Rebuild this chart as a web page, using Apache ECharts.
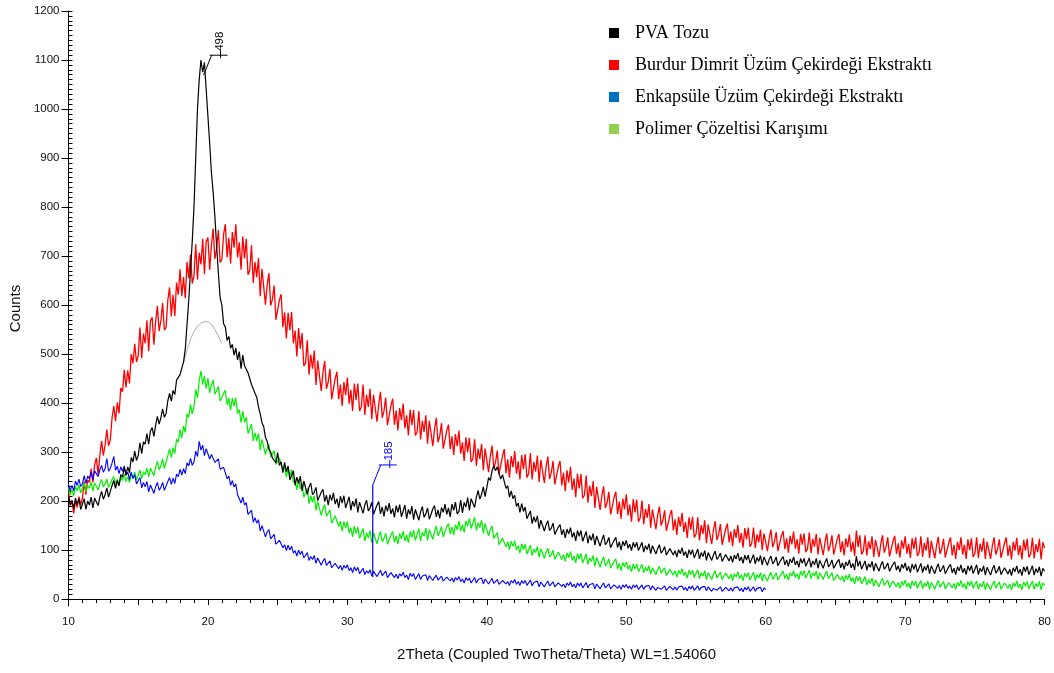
<!DOCTYPE html>
<html><head><meta charset="utf-8">
<script src="https://cdn.jsdelivr.net/npm/echarts@6/dist/echarts.min.js"></script>
<style>html,body{margin:0;padding:0;background:#fff}#c{width:1054px;height:673px}</style>
</head><body><div id="c"></div>
<script>
// Sampling grid of the diffractograms (2Theta, degrees): 8 readings per degree from 10
const X_START = 10, X_STEP = 0.125;
const seriesNames = ['PVA Tozu', 'Burdur Dimrit Üzüm Çekirdeği Ekstraktı', 'Enkapsüle Üzüm Çekirdeği Ekstraktı', 'Polimer Çözeltisi Karışımı'];

// 10 .. 80
const pvaTozu = [
212,192,202,185,206,193,205,183, 186,205,183,200,192,208,186,206, 208,191,208,220,204,213,227,208, 212,232,242,226,242,231,254,249, 269,253,270,258,289,280,302,283,
293,319,297,321,316,338,316,343, 350,332,355,373,357,370,388,371, 379,405,420,404,426,417,447,444, 458,462,484,510,560,610,670,730, 800,900,1000,1060,1100,1075,1095,1040,
985,930,870,830,780,720,665,615, 600,562,555,528,536,512,520,498, 512,488,505,470,498,476,480,462, 460,438,440,420,412,392,378,360, 352,330,322,305,300,288,292,278,
299,273,280,258,279,260,272,243, 243,262,232,249,236,251,221,241, 240,214,229,237,213,218,228,201, 201,218,224,199,212,192,213,201, 217,194,205,186,210,196,211,186,
189,209,181,200,189,205,177,198, 200,175,192,202,180,186,198,173, 175,192,199,174,188,169,191,179, 196,174,185,167,191,177,193,168, 171,192,164,183,173,190,162,183,
185,161,178,189,167,174,186,163, 165,184,191,168,182,165,187,177, 194,173,186,168,194,181,198,174, 179,202,176,197,188,207,181,205, 208,187,208,222,204,214,229,209,
228,248,242,262,272,262,270,256, 245,254,253,226,231,208,221,205, 212,189,196,177,195,179,188,164, 164,180,154,168,157,170,144,161, 160,139,152,160,140,145,155,132,
132,147,152,131,142,125,143,133, 146,126,136,119,140,128,140,118, 121,138,114,130,120,134,110,129, 129,108,121,131,111,116,126,105, 105,120,126,105,117,100,118,109,
120,104,112,99,116,106,116,99, 101,116,96,109,101,113,93,109, 109,92,103,111,94,99,107,90, 90,103,107,90,99,86,101,93, 105,89,97,84,101,91,101,84,
87,102,82,95,87,99,79,95, 96,79,90,98,81,86,94,77, 78,91,95,78,88,75,90,82, 94,78,86,73,90,80,90,73, 76,91,72,85,77,89,70,86,
86,69,81,88,72,77,86,68, 70,82,87,70,80,67,82,74, 86,70,78,65,83,73,83,67, 70,84,65,78,70,83,63,79, 80,63,75,83,66,71,80,63,
64,76,81,64,74,61,76,68, 80,64,73,59,88,67,78,61, 64,78,59,72,65,77,57,73, 74,57,69,77,61,66,74,57, 58,71,76,59,68,55,71,63,
74,58,67,54,72,61,72,55, 58,73,54,67,59,71,52,68, 69,52,64,72,56,61,69,52, 53,66,71,54,63,50,66,58, 70,54,63,50,68,58,69,52,
55,70,50,63,56,68,49,65, 66,49,61,69,53,58,67,50, 51,64,68,51,61,48,64,56, 68,52,61,48,66,56,67,50, 53,68,49,62,54,66,47,63,
57];

// 10 .. 80
const burdurDimrit = [
220,191,200,175,200,187,209,193, 206,240,213,243,238,266,238,274, 288,254,294,323,293,314,346,313, 325,370,394,363,401,379,431,423, 468,432,467,440,500,481,521,484,
497,554,492,542,522,569,506,567, 575,519,566,598,547,568,604,549, 555,610,636,577,621,578,646,621, 673,618,657,614,688,655,703,644, 660,724,652,707,683,735,663,730,
738,672,722,756,694,715,753,687, 693,745,765,697,737,685,749,717, 765,697,728,672,740,695,735,662, 671,722,645,688,657,696,618,674, 672,601,641,665,599,612,640,570,
569,610,622,555,585,532,584,549, 586,522,548,495,553,511,543,476, 481,528,458,499,470,507,437,487, 486,425,463,486,429,443,470,408, 410,450,464,408,438,394,443,416,
452,399,427,384,440,406,440,384, 392,438,376,417,392,429,367,417, 418,362,398,423,370,384,411,355, 358,395,409,356,385,344,390,365, 399,349,375,334,387,355,386,334,
341,384,326,364,341,375,317,364, 365,312,347,370,320,333,359,307, 310,344,356,306,332,294,337,312, 344,297,320,282,330,300,329,280, 286,326,272,307,286,317,263,307,
308,259,292,313,267,279,303,255, 257,292,306,257,285,248,292,269, 302,256,281,244,294,265,296,248, 256,298,244,280,260,293,239,284, 286,237,270,291,245,258,282,234,
236,270,282,232,258,220,263,238, 270,223,246,208,256,226,255,206, 212,252,197,231,210,241,186,229, 228,182,211,230,186,197,219,173, 174,207,219,174,199,164,205,183,
214,171,193,158,204,177,203,158, 166,201,153,184,166,194,146,183, 185,143,171,189,150,161,181,139, 141,171,182,140,163,131,168,148, 176,137,157,125,167,142,168,126,
132,167,120,151,133,161,114,152, 154,112,141,159,121,132,153,111, 115,143,154,116,138,108,143,125, 151,115,135,105,145,122,146,107, 114,146,104,132,116,142,100,134,
136,98,124,142,106,117,137,98, 100,129,139,102,124,95,129,112, 138,103,122,93,133,111,134,96, 103,136,94,123,107,133,91,125, 127,90,116,134,98,110,130,91,
93,122,133,96,118,89,124,106, 132,97,117,88,140,106,130,91, 98,130,89,118,102,128,86,121, 123,86,112,130,95,106,126,87, 89,118,129,92,114,85,120,103,
128,93,113,84,124,102,126,88, 95,128,86,115,99,126,84,119, 120,83,109,127,92,103,123,85, 86,115,126,89,111,82,117,100, 126,91,111,82,122,100,124,86,
93,126,84,113,97,124,82,117, 119,82,108,126,91,102,122,84, 86,114,126,88,110,81,117,99, 125,90,110,81,121,99,123,85, 92,125,83,112,96,123,81,116,
104];

// 10 .. 60
const enkapsule = [
235,221,232,221,241,232,245,230, 235,252,236,251,246,260,244,262, 265,250,264,273,259,266,287,261, 267,278,291,263,271,256,270,261, 272,253,259,244,259,246,254,235,
235,248,227,238,229,240,219,233, 232,216,229,238,222,228,238,222, 224,240,248,234,247,236,255,250, 265,253,266,256,278,272,287,273, 280,302,291,322,304,314,293,307,
307,286,295,299,279,280,286,265, 262,269,269,246,251,232,242,229, 235,213,216,196,208,192,197,173, 170,181,157,166,155,162,139,150, 147,127,137,142,123,125,132,112,
112,120,122,105,111,99,110,100, 108,94,99,88,100,91,98,84, 84,95,79,87,81,89,73,84, 84,69,78,83,69,72,78,64, 64,73,75,62,69,59,69,63,
70,58,64,54,66,58,65,52, 53,63,50,58,53,60,47,57, 58,46,53,59,48,50,57,44, 44,54,57,44,51,42,52,47, 55,44,49,40,53,46,52,40,
43,52,40,47,43,50,38,48, 48,38,44,49,39,42,47,37, 37,45,47,37,43,35,44,39, 46,36,41,33,44,38,43,33, 35,44,33,40,36,43,31,41,
41,31,37,42,32,35,40,30, 30,38,41,31,36,28,38,33, 40,30,36,28,38,32,38,28, 30,39,27,34,30,37,25,35, 35,25,32,37,27,30,35,25,
25,33,36,26,31,23,33,28, 35,25,31,23,33,27,33,23, 25,34,23,30,26,32,21,31, 31,21,28,33,23,26,31,21, 21,29,32,22,28,20,29,24,
30,22,27,20,29,24,29,20, 21,29,20,26,22,28,19,27, 27,18,24,28,20,22,27,18, 19,26,28,19,25,18,25,22, 27,19,24,17,26,21,27,18,
19,27,18,24,20,26,17,25, 25,16,22,26,18,20,25,16, 17,24,26,17,23,16,23,20, 25,17,22,15,24,19,25,16, 17,25,16,22,18,24,15,23,
19];

// 10 .. 80
const polimer = [
228,213,223,211,230,221,233,217, 221,237,219,232,226,239,221,237, 239,223,236,244,229,235,245,228, 230,244,250,234,245,232,249,242, 255,240,250,238,256,247,259,243,
247,263,246,260,254,267,250,267, 270,252,269,281,264,272,286,267, 269,293,307,289,309,297,326,321, 346,329,353,340,378,371,397,378, 392,428,410,446,466,438,455,430,
451,421,437,447,418,422,434,404, 402,420,426,396,410,386,410,394, 411,379,387,360,383,361,371,338, 337,357,323,339,323,338,304,326, 322,295,308,316,290,294,303,275,
274,288,290,262,272,249,267,251, 264,238,245,223,244,225,237,208, 208,226,195,211,198,211,181,199, 198,171,185,193,169,173,182,155, 154,170,174,148,159,139,158,145,
158,135,146,127,149,134,147,124, 125,144,119,135,125,140,115,135, 135,113,128,138,117,124,134,112, 114,131,138,116,129,112,134,123, 139,119,131,115,138,126,141,120,
123,144,119,137,128,145,120,142, 143,122,138,149,129,137,148,127, 130,148,154,133,147,131,152,142, 159,139,152,136,160,149,165,144, 148,167,140,156,146,161,134,154,
154,129,142,149,124,128,136,111, 111,124,128,107,117,101,118,108, 119,100,109,94,113,101,112,92, 94,110,89,102,95,107,85,103, 103,83,96,104,86,91,100,81,
81,96,100,81,91,77,94,85, 97,79,88,74,93,82,93,74, 76,92,71,84,77,89,67,85, 85,65,78,86,68,73,82,63, 63,77,82,62,73,58,75,66,
76,61,69,56,72,62,72,56, 58,71,54,65,58,68,51,64, 65,50,60,67,53,56,64,48, 49,61,64,49,58,45,59,51, 62,48,55,43,59,50,59,44,
46,60,42,54,47,58,40,54, 55,40,51,58,43,47,55,40, 41,53,57,42,51,38,52,45, 56,42,50,38,53,45,54,39, 41,55,38,50,43,54,37,51,
52,37,48,55,41,46,54,39, 40,52,57,42,51,39,54,47, 58,44,52,40,57,48,58,43, 45,59,42,54,47,57,40,54, 55,40,50,57,42,46,54,38,
39,50,54,39,47,35,49,40, 51,36,44,31,47,37,46,31, 33,46,29,40,32,43,26,39, 40,25,36,42,28,32,39,24, 25,37,40,25,34,22,36,28,
39,25,33,21,37,28,37,22, 24,38,21,33,26,37,20,34, 35,20,31,38,24,28,36,21, 22,34,38,23,32,20,34,27, 38,24,32,20,36,27,37,22,
23,37,20,32,25,36,19,33, 34,19,30,37,23,27,35,20, 21,33,37,22,31,19,33,26, 37,23,31,19,35,26,36,21, 23,37,20,32,25,36,19,33,
28];

// thin grey fitted background under the main PVA peak (18.25 .. 21.0, every 0.25)
const FIT_START = 18.25, FIT_STEP = 0.25;
const pvaFit = [481,508,530,546,557,563,566,566,561,550,537,522];

// peak annotations
const peakX = [19.69, 31.82];
const peakY = [1069, 233];
const peakBase = [null, 45];
const peakText = ['498', '185'];

const yTickLabels = [0,100,200,300,400,500,600,700,800,900,1000,1100,1200];

const yMinorTicks = [];
for (let v = 0; v <= 1200; v += 10) yMinorTicks.push(v);

const toPairs = (arr, start, step) => arr.map((v, i) => [start + i * step, v]);

const chart = echarts.init(document.getElementById('c'), null, {renderer: 'canvas'});
const FONT = 'Liberation Sans, Arial, sans-serif';
const lineColors = ['#000000', '#ff0000', '#0000ff', '#00ee00'];
const lineWidths = [1.2, 1.3, 1.1, 1.2];
const legendColors = ['#000000', '#ff0000', '#0070c0', '#92d050'];
const annColors = ['#000000', '#0000ff'];

const mkLine = (idx, arr, z) => ({
  name: seriesNames[idx], type: 'line', data: toPairs(arr, X_START, X_STEP),
  showSymbol: false, symbol: 'none', z: z,
  lineStyle: {color: lineColors[idx], width: lineWidths[idx]}, itemStyle: {color: lineColors[idx]},
  emphasis: {disabled: true}, silent: true
});

chart.setOption({
  animation: false,
  backgroundColor: '#fff',
  grid: {left: 67, right: 2, top: 11, bottom: 67, containLabel: false},
  legend: {
    orient: 'vertical', left: 609, top: 23, padding: 0, itemWidth: 10, itemHeight: 10, itemGap: 12,
    icon: 'rect', selectedMode: false,
    textStyle: {fontFamily: 'Liberation Serif, Times New Roman, serif', fontSize: 18, color: '#000', lineHeight: 20, padding: [0, 0, 0, 11]},
    data: seriesNames.map((n, i) => ({name: n, itemStyle: {color: legendColors[i]}}))
  },
  xAxis: {
    type: 'value', min: 10, max: 80, interval: 5,
    name: '2Theta (Coupled TwoTheta/Theta) WL=1.54060', nameLocation: 'middle', nameGap: 41,
    nameTextStyle: {fontFamily: FONT, fontSize: 15, color: '#111'},
    axisLine: {show: true, lineStyle: {color: '#000', width: 1}},
    axisTick: {show: true, length: 6, lineStyle: {color: '#000'}},
    minorTick: {show: true, splitNumber: 5, length: 4, lineStyle: {color: '#000'}},
    axisLabel: {fontFamily: FONT, fontSize: 11.5, color: '#111', margin: 10,
      formatter: v => (v % 10 === 0 ? String(v) : '')},
    splitLine: {show: false}, minorSplitLine: {show: false}
  },
  yAxis: [{
    type: 'value', min: -14, max: 1200,
    name: 'Counts', nameLocation: 'middle', nameGap: 34,
    nameTextStyle: {fontFamily: FONT, fontSize: 15, color: '#111'},
    axisLine: {show: true, lineStyle: {color: '#000', width: 1}},
    axisTick: {show: true, length: 7, customValues: yTickLabels, lineStyle: {color: '#000'}},
    axisLabel: {fontFamily: FONT, fontSize: 11.5, color: '#111', margin: 9, customValues: yTickLabels,
      formatter: v => String(v)},
    splitLine: {show: false}
  }, {
    type: 'value', min: -14, max: 1200, position: 'left', offset: 0,
    axisLine: {show: false},
    axisTick: {show: true, inside: true, length: 4, customValues: yMinorTicks, lineStyle: {color: '#000'}},
    axisLabel: {show: false},
    splitLine: {show: false}
  }],
  series: [
    mkLine(1, burdurDimrit, 2),
    mkLine(3, polimer, 3),
    mkLine(2, enkapsule, 4),
    {
      name: 'fit', type: 'line', data: toPairs(pvaFit, FIT_START, FIT_STEP), showSymbol: false, symbol: 'none',
      z: 4, silent: true, lineStyle: {color: '#9a9a9a', width: 0.8}, emphasis: {disabled: true}
    },
    mkLine(0, pvaTozu, 5),
    {
      type: 'custom', z: 10, silent: true,
      data: peakX.map((x, i) => [x, peakY[i], peakBase[i] == null ? NaN : peakBase[i], i]),
      renderItem: function (params, api) {
        const i = api.value(3);
        const p = api.coord([api.value(0), api.value(1)]);
        const col = annColors[i];
        const children = [];
        const base = api.value(2);
        if (!isNaN(base)) {
          const b = api.coord([api.value(0), base]);
          children.push({type: 'line', shape: {x1: b[0], y1: b[1], x2: p[0], y2: p[1]}, style: {stroke: col, lineWidth: 1.2}});
        }
        children.push({type: 'polyline', shape: {points: [[p[0], p[1]], [p[0] + 8, p[1] - 20]]}, style: {stroke: col, lineWidth: 1, fill: null}});
        children.push({type: 'line', shape: {x1: p[0] + 6, y1: p[1] - 20, x2: p[0] + 24, y2: p[1] - 20}, style: {stroke: col, lineWidth: 1}});
        children.push({type: 'line', shape: {x1: p[0] + 17, y1: p[1] - 25, x2: p[0] + 17, y2: p[1] - 17}, style: {stroke: col, lineWidth: 1}});
        children.push({type: 'text', x: p[0] + 16, y: p[1] - 34, rotation: Math.PI / 2,
          style: {text: peakText[i], fill: col, font: '11.5px ' + FONT, align: 'center', verticalAlign: 'middle'}});
        return {type: 'group', children: children};
      }
    }
  ]
});
</script>
</body></html>
